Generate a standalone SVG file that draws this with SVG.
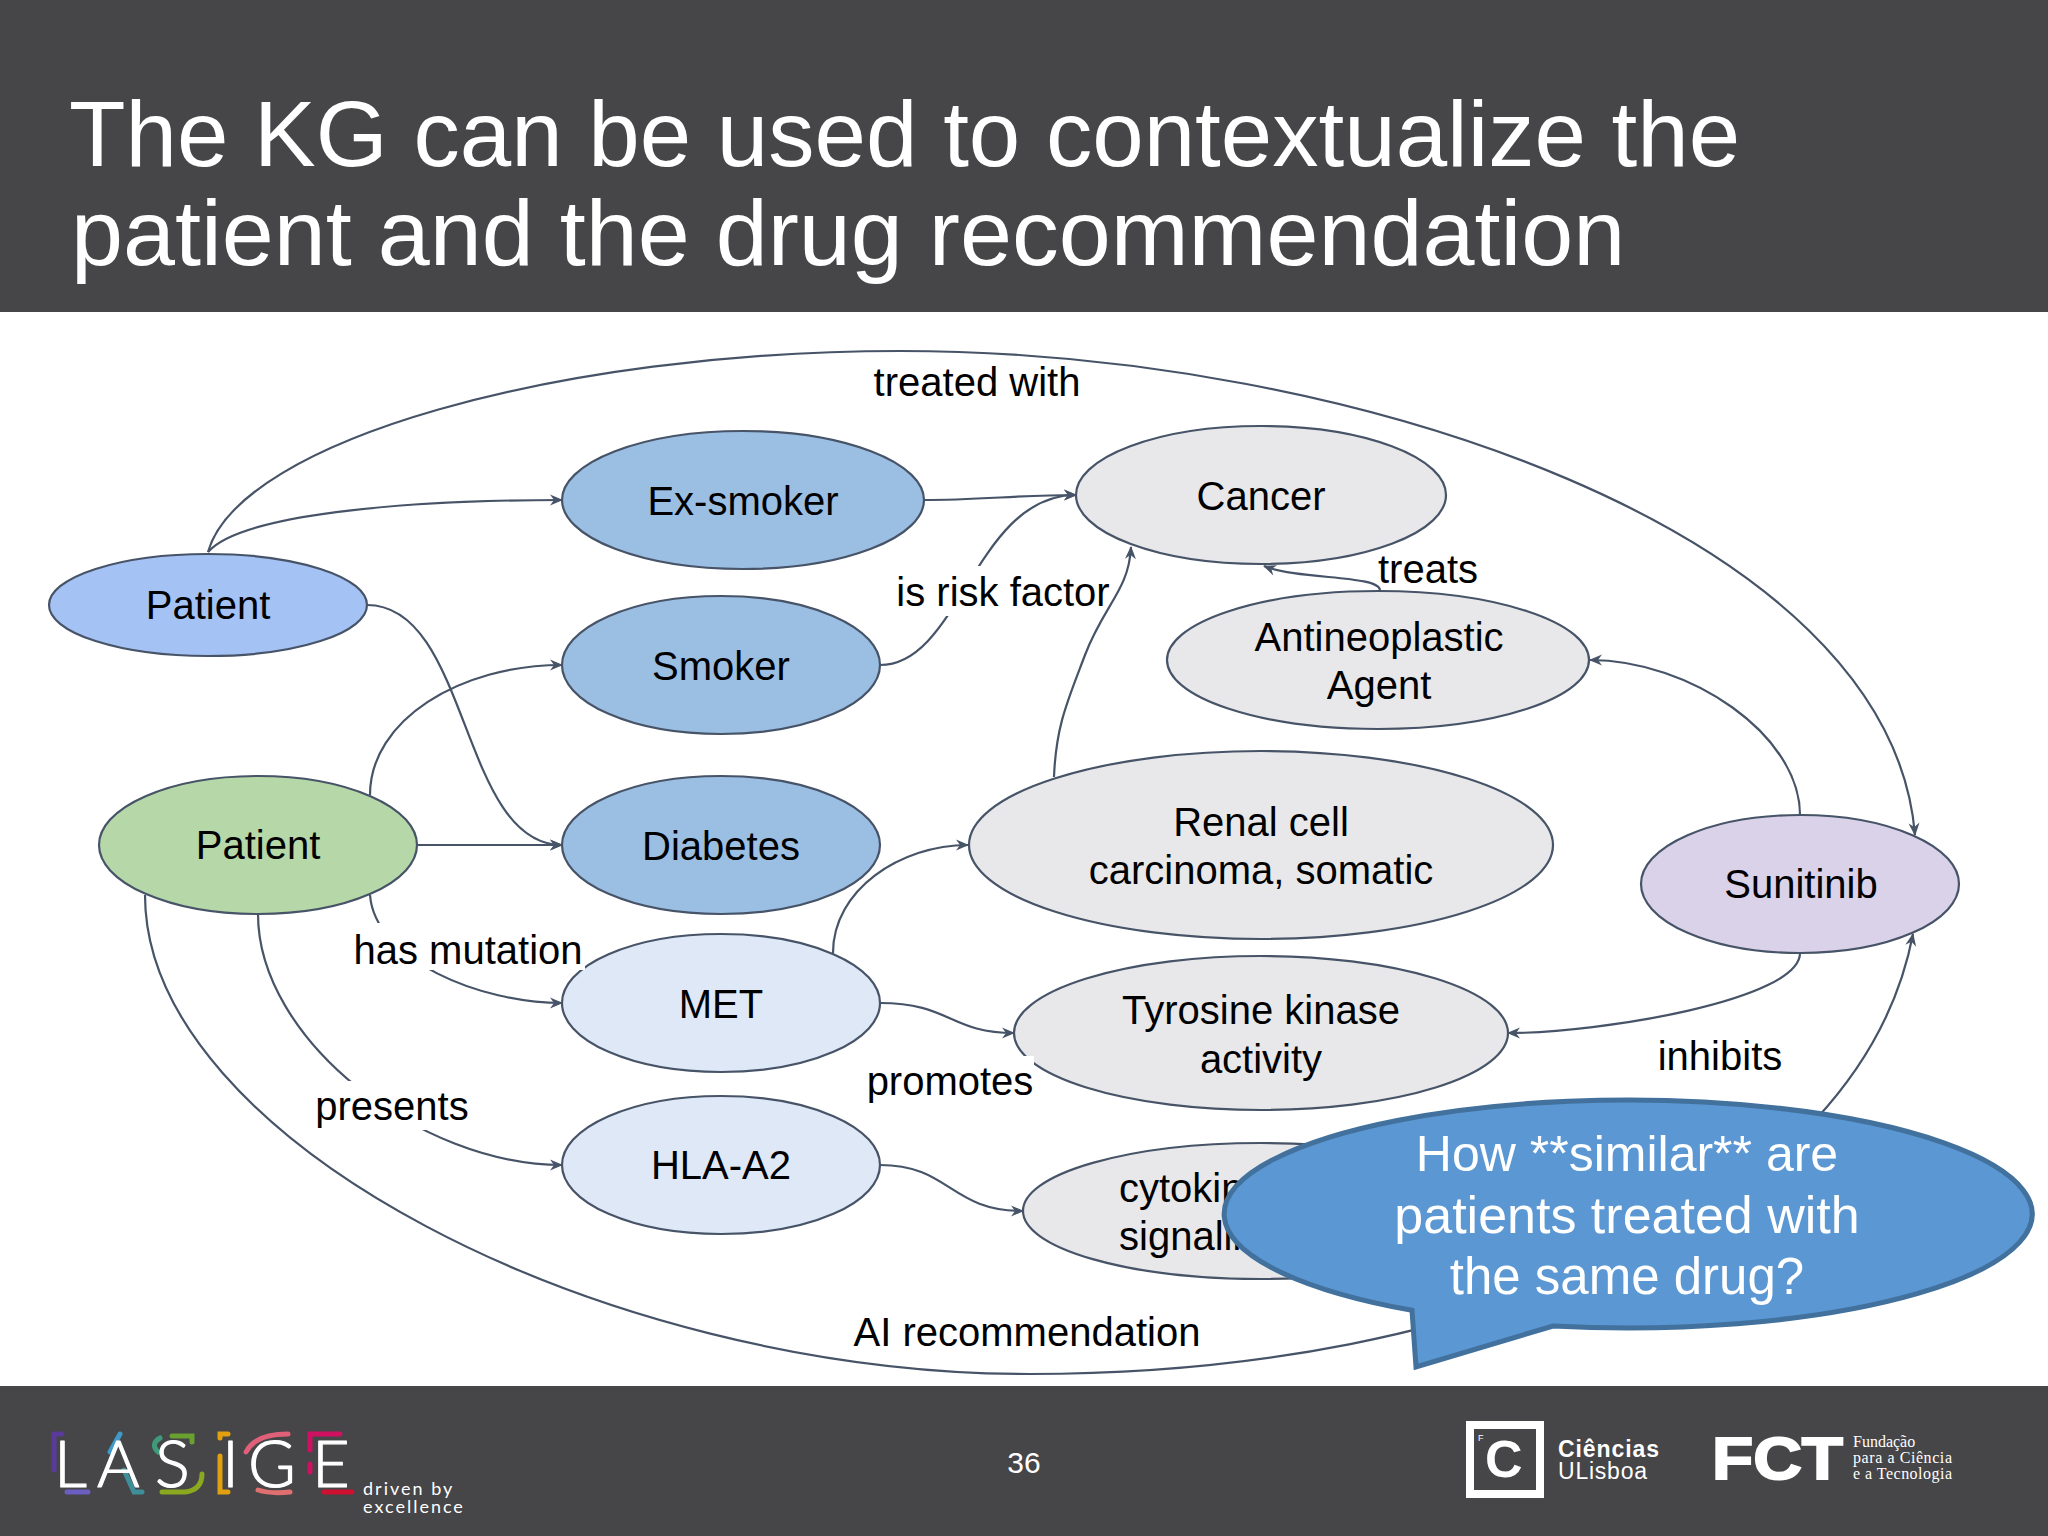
<svg xmlns="http://www.w3.org/2000/svg" width="2048" height="1536" viewBox="0 0 2048 1536">
<defs>
<marker id="arr" markerUnits="userSpaceOnUse" markerWidth="16" markerHeight="14" refX="13" refY="7" orient="auto"><path d="M1,1.5 L14,7 L1,12.5 L5,7 Z" fill="#475468"/></marker>
</defs>
<style>
text{font-family:"Liberation Sans",Arial,sans-serif}
.n{stroke:#475468;stroke-width:2.2}
.t{font-size:40px;fill:#000;text-anchor:middle}
.c{fill:none;stroke:#475468;stroke-width:2.2}
.a{marker-end:url(#arr)}
.bar{fill:#464548}
.g{fill:#e8e8ea}.b{fill:#9bbee3}.p{fill:#dfe8f6}
.acc{fill:none;stroke-width:5;stroke-linecap:round}
.ct{font-size:51px;fill:#fff;text-anchor:middle}
</style>
<rect width="2048" height="1536" fill="#fff"/>
<g id="header"><rect class="bar" width="2048" height="312"/>
<text x="69" y="166" font-size="92.5" fill="#fff">The KG can be used to contextualize the</text>
<text x="71" y="265" font-size="93.5" fill="#fff">patient and the drug recommendation</text></g>
<g id="connectors">
<path class="c a" d="M208,552 C240,440 560,351 900,351 C1350,351 1890,530 1915,835"/>
<path class="c a" d="M208,552 C240,515 400,500 562,500"/>
<path class="c a" d="M923,500 C980,500 1020,495 1076,495"/>
<path class="c a" d="M880,665 C960,665 975,495 1076,495"/>
<path class="c a" d="M1054,777 C1056,725 1068,700 1085,655 C1104,605 1129,590 1131,547"/>
<path class="c a" d="M1380,590 C1378,575 1300,580 1264,566"/>
<path class="c a" d="M1800,815 C1800,735 1690,660 1590,660"/>
<path class="c a" d="M1800,953 C1800,1000 1600,1033 1508,1033"/>
<path class="c a" d="M367,605 C470,605 460,845 562,845"/>
<path class="c a" d="M370,795 C370,720 460,665 562,665"/>
<path class="c a" d="M417,845 L562,845"/>
<path class="c a" d="M370,895 C375,960 480,1003 562,1003"/>
<path class="c a" d="M833,953 C833,890 900,845 968,845"/>
<path class="c a" d="M880,1003 C950,1003 950,1033 1014,1033"/>
<path class="c a" d="M258,914 C258,1040 420,1165 562,1165"/>
<path class="c a" d="M880,1165 C950,1165 950,1211 1023,1211"/>
<path class="c a" d="M145,895 C145,1140 600,1374 1030,1374 C1480,1374 1860,1210 1913,934"/>
</g>
<g id="node-patient-blue"><ellipse class="n" cx="208" cy="605" rx="159" ry="51" fill="#a4c2f4"/><text class="t" x="208" y="619">Patient</text></g>
<g id="node-patient-green"><ellipse class="n" cx="258" cy="845" rx="159" ry="69" fill="#b6d7a8"/><text class="t" x="258" y="859">Patient</text></g>
<g id="node-ex-smoker"><ellipse class="n b" cx="743" cy="500" rx="181" ry="69"/><text class="t" x="743" y="515">Ex-smoker</text></g>
<g id="node-smoker"><ellipse class="n b" cx="721" cy="665" rx="159" ry="69"/><text class="t" x="721" y="680">Smoker</text></g>
<g id="node-diabetes"><ellipse class="n b" cx="721" cy="845" rx="159" ry="69"/><text class="t" x="721" y="860">Diabetes</text></g>
<g id="node-met"><ellipse class="n p" cx="721" cy="1003" rx="159" ry="69"/><text class="t" x="721" y="1018">MET</text></g>
<g id="node-hla"><ellipse class="n p" cx="721" cy="1165" rx="159" ry="69"/><text class="t" x="721" y="1179">HLA-A2</text></g>
<g id="node-cancer"><ellipse class="n g" cx="1261" cy="495" rx="185" ry="69"/><text class="t" x="1261" y="510">Cancer</text></g>
<g id="node-antineoplastic"><ellipse class="n g" cx="1378" cy="660" rx="211" ry="69"/><text class="t" x="1379" y="651">Antineoplastic</text><text class="t" x="1379" y="699">Agent</text></g>
<g id="node-renal"><ellipse class="n g" cx="1261" cy="845" rx="292" ry="94"/><text class="t" x="1261" y="836">Renal cell</text><text class="t" x="1261" y="884">carcinoma, somatic</text></g>
<g id="node-tyrosine"><ellipse class="n g" cx="1261" cy="1033" rx="247" ry="77"/><text class="t" x="1261" y="1024">Tyrosine kinase</text><text class="t" x="1261" y="1073">activity</text></g>
<g id="node-cytokine"><ellipse class="n g" cx="1261" cy="1211" rx="238" ry="68"/><text class="t" x="1119" y="1202" style="text-anchor:start">cytokine</text><text class="t" x="1119" y="1250" style="text-anchor:start">signalling</text></g>
<g id="node-sunitinib"><ellipse class="n" cx="1800" cy="884" rx="159" ry="69" fill="#d9d2e9"/><text class="t" x="1801" y="898">Sunitinib</text></g>
<g id="labels">
<rect x="893" y="566" width="147" height="50" fill="#fff"/>
<rect x="352" y="923" width="233" height="47" fill="#fff"/>
<rect x="312" y="1081" width="160" height="49" fill="#fff"/>
<rect x="862" y="1056" width="172" height="50" fill="#fff"/>
<text class="t" x="977" y="396">treated with</text>
<text class="t" x="1003" y="606">is risk factor</text>
<text class="t" x="1428" y="583">treats</text>
<text class="t" x="468" y="964">has mutation</text>
<text class="t" x="950" y="1095">promotes</text>
<text class="t" x="392" y="1120">presents</text>
<text class="t" x="1720" y="1070">inhibits</text>
<text class="t" x="1027" y="1346">AI recommendation</text>
</g>
<g id="callout">
<path d="M1553,1326 A404,114 0 1 0 1412,1310.3 L1416,1367 Z" fill="#5a97d3" stroke="#41719c" stroke-width="5"/>
<text class="ct" x="1627" y="1171" style="font-size:50px">How **similar** are</text>
<text class="ct" x="1627" y="1233" style="font-size:52px">patients treated with</text>
<text class="ct" x="1627" y="1294">the same drug?</text>
</g>
<g id="footer">
<rect class="bar" y="1386" width="2048" height="150"/>
<text x="1024" y="1473" font-size="30" fill="#fff" text-anchor="middle">36</text>
<g id="logo-lasige">
<path class="acc" stroke="#5a3a9a" d="M54,1434 V1470 M54,1434 H62"/>
<path class="acc" stroke="#6a5fc0" d="M67,1492 H88"/>
<path class="acc" stroke="#3f9ac9" d="M110,1452 L120,1434"/>
<path class="acc" stroke="#3f8f9a" d="M124,1470 L134,1492 H142"/>
<path class="acc" stroke="#3f9a7a" d="M158,1452 Q150,1444 160,1438"/>
<path class="acc" stroke="#6aa030" d="M172,1436 H192 V1442"/>
<path class="acc" stroke="#8aa820" d="M162,1492 H185 Q202,1490 202,1474"/>
<path class="acc" stroke="#e0a010" d="M220,1438 V1434 H228 M220,1456 V1492 H228"/>
<path class="acc" stroke="#e0607a" d="M246,1452 Q255,1434 288,1434"/>
<path class="acc" stroke="#e07070" d="M258,1490 Q270,1494 290,1492"/>
<path class="acc" stroke="#d01060" d="M310,1472 V1464 M310,1450 V1434 H340"/>
<path class="acc" stroke="#d01030" d="M324,1492 H352"/>
<text x="54 97 155 222 248 312" y="1487" font-size="65" fill="#fff" stroke="#fff" stroke-width="1.2" stroke-linejoin="round" style="font-family:Lato,sans-serif;font-weight:300">LASIGE</text>
<text x="363" y="1495" font-size="18" fill="#fff" letter-spacing="2" style="font-family:Lato,sans-serif">driven by</text>
<text x="363" y="1513" font-size="18" fill="#fff" letter-spacing="2" style="font-family:Lato,sans-serif">excellence</text>
</g>
<g id="logo-ciencias">
<rect x="1470" y="1425" width="70" height="69" fill="none" stroke="#fff" stroke-width="8"/>
<text x="1478" y="1441" font-size="9" fill="#fff">F</text>
<text x="1485" y="1477" font-size="52" font-weight="bold" fill="#fff">C</text>
<text x="1558" y="1457" font-size="23" font-weight="bold" fill="#fff" letter-spacing="1" textLength="102">Ciências</text>
<text x="1558" y="1479" font-size="23" fill="#fff" letter-spacing="1" textLength="90">ULisboa</text>
</g>
<g id="logo-fct">
<text x="1712" y="1479" font-size="60" font-weight="bold" fill="#fff" stroke="#fff" stroke-width="2" textLength="131" lengthAdjust="spacingAndGlyphs">FCT</text>
<g style="font-size:16px" fill="#fff">
<text x="1853" y="1447" style="font-family:'Liberation Serif',serif">Fundação</text>
<text x="1853" y="1463" style="font-family:'Liberation Serif',serif" textLength="99">para a Ciência</text>
<text x="1853" y="1479" style="font-family:'Liberation Serif',serif" textLength="99">e a Tecnologia</text>
</g></g>
</g>
</svg>
